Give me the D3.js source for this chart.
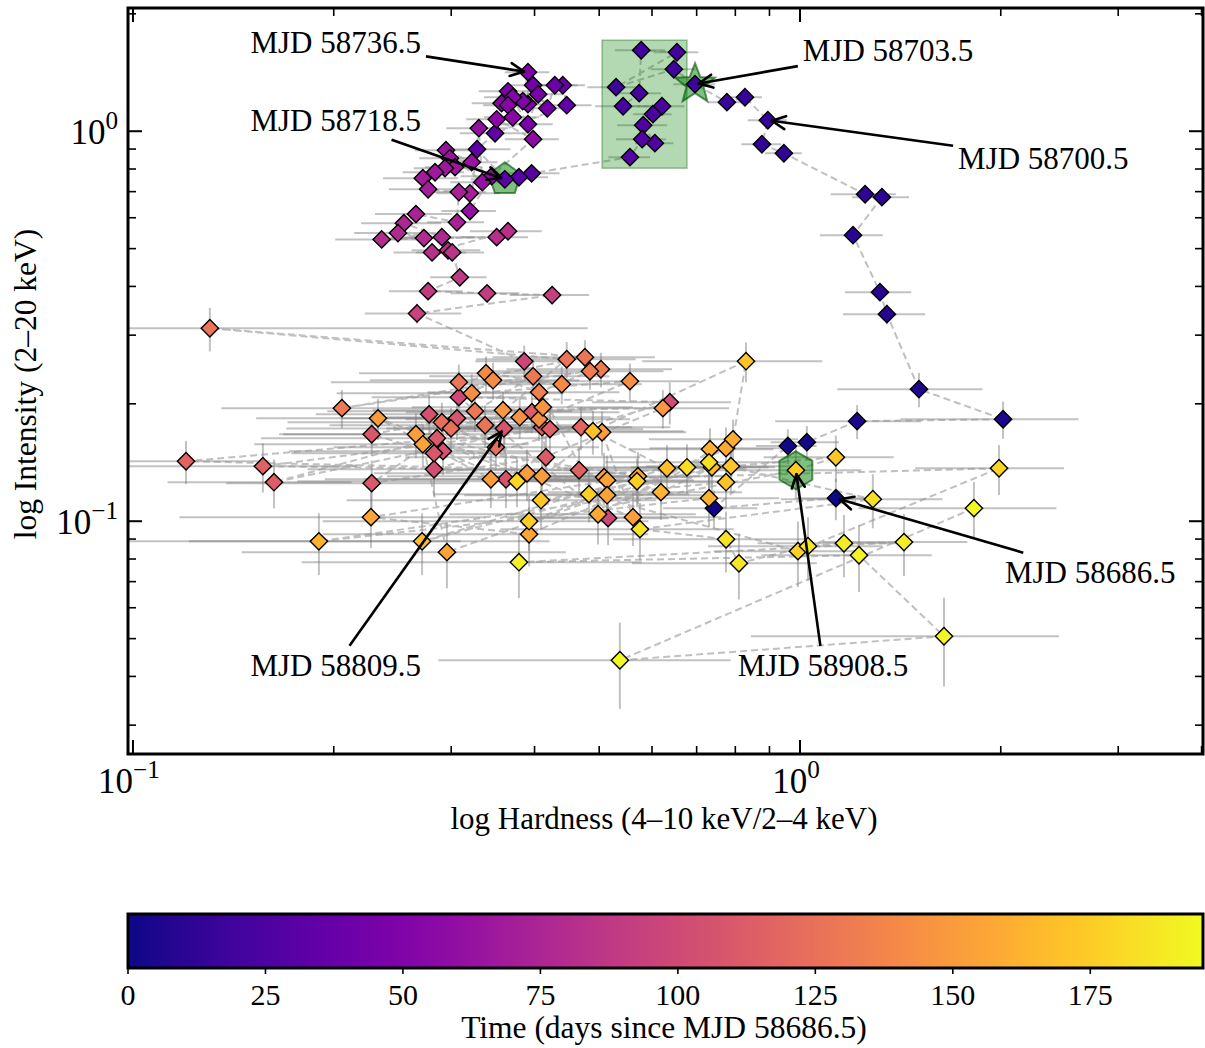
<!DOCTYPE html>
<html><head><meta charset="utf-8">
<script src="https://cdn.jsdelivr.net/npm/d3@7"></script>
<style>
body{margin:0;background:#fff}
svg{display:block}
text{font-family:"Liberation Serif","Times New Roman",serif;fill:#000}
</style>
</head><body>
<svg id="chart" width="1205" height="1048"></svg>
<script>
// ---------------- DATA ----------------
// time (days since MJD 58686.5, as read from marker colour), in observation order
const time = [
 0,1,2,3,4,5,6,7,8,9,10,11,12,13,14,15,16,17,
 18,19,20,21,22,23,24,25,26,27,28,29,
 30,31,32,33,35,36,38,40,42,44,46,47,48,49,50,51,52,53,54,55,56,57,58,59,60,61,
 62,63,64,65,66,67,68,70,71,72,73,74,76,77,78,79,80,81,82,83,84,85,88,90,91,93,95,98,99,
 100,101,103,104,105,106,107,108,108.5,109,110,110.5,111,112,112.5,113,114,115,116,117,118,
 124,125,126,127,127.5,128,128.5,129,129.5,130,130.5,131,132,133,
 140,140.5,142,142.5,143,143.5,145,145.5,148,148.5,149,150,150.5,151,151.5,152,152.5,153,153.5,154,154.5,155,155.5,156,156.5,157,158,
 160,161,162,162.5,163,165,168,168.5,170,170.5,171,172,172.5,173,174,175,175.5,176,176.5,178,
 180,182,182.5,184,185,185.5,187,188,189,190,191,192,193,194,195
];
// hardness ratio (4-10 keV / 2-4 keV)
const hardness = [
 1.132,0.743,0.959,1.024,1.218,2.016,1.508,1.350,1.318,1.201,1.327,1.252,0.946,0.877,0.895,0.827,0.777,0.696,
 0.647,0.530,0.654,0.578,0.574,0.543,0.621,0.602,0.582,0.606,0.580,0.556,
 0.396,0.379,0.361,0.328,0.349,0.447,0.441,0.429,0.418,0.398,0.405,0.391,0.365,0.391,0.391,0.384,0.371,0.357,0.365,0.371,0.351,0.398,0.345,0.320,0.330,0.334,
 0.2946,0.322,0.2987,0.304,0.2936,0.2837,0.272,0.277,0.320,0.308,0.306,0.2656,0.2548,0.2905,0.2496,0.273,0.236,0.351,0.365,0.2808,0.2967,0.301,0.309,0.277,0.3395,0.425,0.2666,0.386,0.5156,
 0.308,0.638,0.2827,0.278,0.2916,0.3624,0.3599,0.306,0.228,0.2827,0.2856,0.228,0.416,0.4104,0.1627,0.3964,0.4218,0.1566,0.4664,0.1201,0.4696,
 0.2905,0.350,0.2998,0.3372,0.447,0.1304,0.476,0.308,0.3256,0.398,0.2057,0.503,0.4843,0.4063,
 0.3383,0.4394,0.3466,0.322,0.556,0.4063,0.380,0.4117,0.3587,0.623,0.344,0.233,0.3898,0.4104,0.505,0.5618,0.2656,0.5085,0.5138,0.5138,0.2956,0.272,0.5716,0.2274,0.3925,0.7747,0.498,
 0.7936,0.733,0.7305,0.190,0.6188,0.738,0.2713,0.6318,0.4893,0.830,0.7747,0.409,0.788,1.132,0.986,0.3925,0.5697,0.4827,0.993,1.988,
 0.3764,0.677,0.7305,1.286,0.5755,0.7747,0.810,1.028,1.164,1.432,0.379,1.226,1.644,0.537,1.823
];
// intensity (2-20 keV, Crab units)
const intensity = [
 0.1146,0.108,0.156,0.1595,0.1805,0.1826,0.218,0.3396,0.3866,0.5412,0.6775,0.6893,0.878,0.926,1.067,1.222,1.187,1.320,
 1.442,1.297,1.594,1.613,1.252,1.159,1.159,1.106,1.036,0.932,0.954,0.858,
 0.780,0.762,0.753,0.899,0.988,1.166,1.312,1.312,1.145,1.312,1.244,1.042,1.266,1.173,1.417,1.194,1.222,1.180,1.166,1.086,1.073,0.954,0.767,0.624,1.018,0.740,
 0.894,0.833,0.853,0.809,0.804,0.785,0.758,0.710,0.693,0.698,0.584,0.613,0.581,0.535,0.548,0.532,0.528,0.535,0.554,0.489,0.495,0.489,0.422,0.389,0.384,0.380,0.341,0.257,0.1018,
 0.208,0.202,0.1359,0.188,0.1512,0.1281,0.173,0.1836,0.1671,0.1494,0.1632,0.1252,0.1459,0.1742,0.1259,0.1904,0.1722,0.1384,0.1351,0.1425,0.1742,
 0.1794,0.1548,0.173,0.1762,0.2602,0.3125,0.2633,0.2272,0.1915,0.2353,0.1949,0.2453,0.2424,0.2142,
 0.2396,0.2245,0.2299,0.2129,0.2286,0.1826,0.1848,0.1960,0.1926,0.1949,0.1281,0.1836,0.1327,0.1304,0.1691,0.1024,0.1671,0.1297,0.1274,0.1166,0.0833,0.1575,0.1304,0.1024,0.0926,0.1539,0.1042,
 0.1622,0.153,0.1146,0.0888,0.1187,0.1375,0.0888,0.1367,0.1701,0.2572,0.1259,0.1132,0.1384,0.1459,0.1351,0.100,0.1266,0.1173,0.0838,0.1367,
 0.1266,0.1375,0.1416,0.1139,0.0954,0.0899,0.078,0.0863,0.0878,0.0884,0.0785,0.0818,0.0507,0.044,0.108
];
// 1-sigma errors
const hardnessErr = [
 0.15,0.12,0.10,0.12,0.30,0.60,0.37,0.19,0.15,0.13,0.13,0.14,0.06,0.06,0.06,0.05,0.05,0.05,
 0.05,0.05,0.05,0.05,0.045,0.05,0.05,0.04,0.05,0.04,0.05,0.04,
 0.04,0.04,0.04,0.04,0.04,0.04,0.035,0.035,0.035,0.03,0.035,0.035,0.035,0.03,0.03,0.035,0.035,0.035,0.03,0.035,0.035,0.037,0.035,0.03,0.035,0.035,
 0.03,0.03,0.03,0.03,0.03,0.03,0.035,0.035,0.035,0.03,0.03,0.035,0.035,0.035,0.035,0.03,0.035,0.04,0.045,0.035,0.035,0.035,0.03,0.035,0.04,0.058,0.044,0.06,0.12,
 0.08,0.15,0.10,0.09,0.12,0.14,0.12,0.10,0.06,0.11,0.13,0.09,0.16,0.15,0.05,0.14,0.16,0.06,0.18,0.04,0.17,
 0.12,0.15,0.13,0.14,0.12,0.35,0.13,0.11,0.13,0.12,0.07,0.14,0.14,0.13,
 0.12,0.14,0.12,0.12,0.15,0.15,0.14,0.15,0.13,0.16,0.15,0.08,0.16,0.17,0.17,0.20,0.10,0.18,0.18,0.20,0.15,0.12,0.20,0.11,0.20,0.18,0.20,
 0.20,0.18,0.20,0.12,0.20,0.18,0.15,0.20,0.18,0.25,0.20,0.20,0.20,0.25,0.25,0.20,0.20,0.20,0.25,0.50,
 0.20,0.22,0.22,0.35,0.22,0.25,0.25,0.30,0.30,0.35,0.20,0.35,0.80,0.25,0.60
];
const intensityErr = [
 0.014,0.012,0.016,0.016,0.018,0.02,0.022,0.02,0.02,0.022,0.022,0.022,0.02,0.02,0.025,0.025,0.025,0.03,
 0.03,0.03,0.03,0.03,0.03,0.03,0.03,0.03,0.03,0.025,0.025,0.025,
 0.02,0.02,0.02,0.02,0.025,0.025,0.03,0.03,0.025,0.03,0.03,0.025,0.03,0.025,0.03,0.025,0.025,0.025,0.025,0.025,0.025,0.02,0.02,0.02,0.025,0.02,
 0.02,0.02,0.02,0.02,0.02,0.02,0.02,0.02,0.02,0.02,0.02,0.02,0.02,0.02,0.02,0.02,0.02,0.02,0.02,0.02,0.02,0.02,0.02,0.02,0.02,0.02,0.02,0.025,0.015,
 0.025,0.025,0.02,0.022,0.02,0.02,0.022,0.022,0.02,0.02,0.02,0.018,0.02,0.022,0.018,0.022,0.022,0.02,0.02,0.018,0.022,
 0.022,0.02,0.022,0.022,0.028,0.04,0.028,0.025,0.022,0.025,0.022,0.025,0.025,0.025,
 0.025,0.025,0.025,0.025,0.025,0.022,0.022,0.022,0.022,0.022,0.02,0.022,0.02,0.02,0.022,0.016,0.022,0.02,0.02,0.018,0.016,0.02,0.02,0.017,0.016,0.02,0.017,
 0.02,0.02,0.018,0.016,0.018,0.02,0.016,0.02,0.022,0.03,0.018,0.018,0.02,0.02,0.02,0.016,0.018,0.018,0.016,0.02,
 0.018,0.02,0.02,0.018,0.016,0.016,0.015,0.016,0.016,0.016,0.015,0.016,0.013,0.011,0.018
];
// annotated observations (time of the marked point, label, label anchor in data units)
const annotLabels = ["MJD 58736.5","MJD 58718.5","MJD 58703.5","MJD 58700.5","MJD 58686.5","MJD 58809.5","MJD 58908.5"];
const annotTimes  = [50, 32, 17, 14, 0, 107, 174];
const annotTextHardness  = [0.15, 0.15, 1.01, 1.726, 2.029, 0.15, 0.807];
const annotTextIntensity = [1.69, 1.067, 1.613, 0.853, 0.074, 0.0427, 0.0427];
// highlighted region and highlighted observations
const boxHardness  = [0.505, 0.677];
const boxIntensity = [0.804, 1.712];
const starTime = 17, pentagonTime = 32, hexagonTime = 174;
// axes / ticks
const xMajorTicks = [0.1, 1];
const xMinorTicks = [0.2,0.3,0.4,0.5,0.6,0.7,0.8,0.9,2,3,4];
const yMajorTicks = [0.1, 1];
const yMinorTicks = [0.03,0.04,0.05,0.06,0.07,0.08,0.09,0.2,0.3,0.4,0.5,0.6,0.7,0.8,0.9,2];
const tickLabelExp = {"0.1":"\u22121","1":"0"};
const cbTicks = [0,25,50,75,100,125,150,175];
const timeMax = 195.5;

// ---------------- LAYOUT ----------------
const svg = d3.select("#chart");
const P = {left:128, right:1203, top:8, bottom:754};
const x = d3.scaleLog().domain([0.0983, 4.02]).range([P.left, P.right]);
const y = d3.scaleLog().domain([0.0253, 2.07]).range([P.bottom, P.top]);
const color = t => d3.interpolatePlasma(Math.max(0, Math.min(1, t / timeMax)));

const pts = time.map((t,i)=>({t, h:hardness[i], I:intensity[i], he:hardnessErr[i], ie:intensityErr[i]}));

svg.append("defs").append("clipPath").attr("id","clip")
  .append("rect").attr("x",P.left).attr("y",P.top).attr("width",P.right-P.left).attr("height",P.bottom-P.top);

const g = svg.append("g").attr("clip-path","url(#clip)");
const xmin = x.domain()[0]*0.5, ymin = y.domain()[0]*0.5;

// error bars
const eb = g.append("g").attr("stroke","rgba(120,120,120,0.45)").attr("stroke-width",2);
pts.forEach(d=>{
  eb.append("line").attr("x1",x(Math.max(d.h-d.he,xmin))).attr("x2",x(d.h+d.he))
    .attr("y1",y(d.I)).attr("y2",y(d.I));
  eb.append("line").attr("x1",x(d.h)).attr("x2",x(d.h))
    .attr("y1",y(Math.max(d.I-d.ie,ymin))).attr("y2",y(d.I+d.ie));
});

// dashed track in time order
g.append("path").datum(pts)
  .attr("d", d3.line().x(d=>x(d.h)).y(d=>y(d.I)))
  .attr("fill","none").attr("stroke","rgba(150,150,150,0.6)").attr("stroke-width",2)
  .attr("stroke-dasharray","7,4");

// highlighted region
g.append("rect")
  .attr("x",x(boxHardness[0])).attr("width",x(boxHardness[1])-x(boxHardness[0]))
  .attr("y",y(boxIntensity[1])).attr("height",y(boxIntensity[0])-y(boxIntensity[1]))
  .attr("fill","rgba(0,128,0,0.3)").attr("stroke","rgba(0,90,0,0.35)").attr("stroke-width",1.5);

// special markers
function polyPath(n, r, inner){
  const pts=[]; const k = inner ? 2*n : n;
  for(let j=0;j<k;j++){
    const a = -Math.PI/2 + j*2*Math.PI/k;
    const rr = inner ? (j%2? inner : r) : r;
    pts.push([rr*Math.cos(a), rr*Math.sin(a)]);
  }
  return "M"+pts.map(p=>p.join(",")).join("L")+"Z";
}
const findPt = t => pts.find(d=>d.t===t);
[[starTime, polyPath(5,21,9)],[pentagonTime, polyPath(5,17)],[hexagonTime, polyPath(6,19)]].forEach(([t,path])=>{
  const d=findPt(t);
  g.append("path").attr("d",path).attr("transform",`translate(${x(d.h)},${y(d.I)})`)
   .attr("fill","rgba(0,128,0,0.5)").attr("stroke","rgba(0,80,0,0.6)").attr("stroke-width",2);
});

// data markers
const diamond = d3.symbol().type(d3.symbolSquare).size(150);
g.append("g").selectAll("path").data(pts).join("path")
  .attr("d",diamond)
  .attr("transform",d=>`translate(${x(d.h)},${y(d.I)}) rotate(45)`)
  .attr("fill",d=>color(d.t)).attr("stroke","#000").attr("stroke-width",1.4);

// ---------------- AXES ----------------
const ax = svg.append("g").attr("stroke","#000");
function tick(x1,y1,x2,y2,w){ax.append("line").attr("x1",x1).attr("y1",y1).attr("x2",x2).attr("y2",y2).attr("stroke-width",w);}
xMajorTicks.forEach(v=>{tick(x(v),P.bottom,x(v),P.bottom-14,2);tick(x(v),P.top,x(v),P.top+14,2);});
xMinorTicks.forEach(v=>{tick(x(v),P.bottom,x(v),P.bottom-8,1.6);tick(x(v),P.top,x(v),P.top+8,1.6);});
yMajorTicks.forEach(v=>{tick(P.left,y(v),P.left+14,y(v),2);tick(P.right,y(v),P.right-14,y(v),2);});
yMinorTicks.forEach(v=>{tick(P.left,y(v),P.left+8,y(v),1.6);tick(P.right,y(v),P.right-8,y(v),1.6);});
svg.append("rect").attr("x",P.left).attr("y",P.top).attr("width",P.right-P.left).attr("height",P.bottom-P.top)
  .attr("fill","none").attr("stroke","#000").attr("stroke-width",3);

function powLabel(sel, v){
  sel.append("tspan").text("10");
  sel.append("tspan").attr("font-size","0.72em").attr("dy","-0.6em").text(tickLabelExp[String(v)]);
}
xMajorTicks.forEach(v=>{
  const t = svg.append("text").attr("x",x(v)-4).attr("y",P.bottom+39).attr("text-anchor","middle").attr("font-size",35);
  powLabel(t,v);
});
yMajorTicks.forEach(v=>{
  const t = svg.append("text").attr("x",P.left-10).attr("y",y(v)+13).attr("text-anchor","end").attr("font-size",35);
  powLabel(t,v);
});
svg.append("text").attr("x",664).attr("y",829).attr("text-anchor","middle")
  .attr("font-size",31).text("log Hardness (4\u201310 keV/2\u20134 keV)");
svg.append("text").attr("transform",`translate(36,384) rotate(-90)`).attr("text-anchor","middle")
  .attr("font-size",31.5).text("log Intensity (2\u201320 keV)");

// ---------------- ANNOTATIONS ----------------
const an = svg.append("g");
annotLabels.forEach((lab,i)=>{
  const d = findPt(annotTimes[i]);
  const tx = x(annotTextHardness[i]), ty = y(annotTextIntensity[i]);
  const t = an.append("text").attr("x",tx).attr("y",ty).attr("dominant-baseline","central")
    .attr("font-size",31).text(lab);
  const bb = t.node().getBBox(); const pad=5;
  const bx1=bb.x-pad,bx2=bb.x+bb.width+pad,by1=bb.y-pad+3,by2=bb.y+bb.height+pad-3;
  const cx=(bx1+bx2)/2, cy=(by1+by2)/2;
  const px=x(d.h), py=y(d.I);
  const dx=px-cx, dy=py-cy;
  const tX = dx!==0 ? ((dx>0?bx2:bx1)-cx)/dx : Infinity;
  const tY = dy!==0 ? ((dy>0?by2:by1)-cy)/dy : Infinity;
  const s = Math.min(Math.abs(tX),Math.abs(tY));
  const sx=cx+s*dx, sy=cy+s*dy;
  const L=Math.hypot(px-sx,py-sy), ux=(px-sx)/L, uy=(py-sy)/L;
  const ex=px-ux*4, ey=py-uy*4;
  an.append("line").attr("x1",sx).attr("y1",sy).attr("x2",ex).attr("y2",ey)
    .attr("stroke","#000").attr("stroke-width",2.6);
  const ang=Math.atan2(uy,ux), hl=15, ha=0.45;
  [ha,-ha].forEach(a=>{
    an.append("line").attr("x1",ex).attr("y1",ey)
      .attr("x2",ex-hl*Math.cos(ang+a)).attr("y2",ey-hl*Math.sin(ang+a))
      .attr("stroke","#000").attr("stroke-width",2.6).attr("stroke-linecap","round");
  });
});

// ---------------- COLORBAR ----------------
const CB = {left:128, right:1203, top:914, bottom:968};
const cbx = d3.scaleLinear().domain([0,timeMax]).range([CB.left,CB.right]);
const grad = svg.select("defs").append("linearGradient").attr("id","plasma").attr("x1","0%").attr("x2","100%");
d3.range(0,1.0001,0.05).forEach(f=>grad.append("stop").attr("offset",(f*100)+"%").attr("stop-color",d3.interpolatePlasma(f)));
svg.append("rect").attr("x",CB.left).attr("y",CB.top).attr("width",CB.right-CB.left).attr("height",CB.bottom-CB.top)
  .attr("fill","url(#plasma)").attr("stroke","#000").attr("stroke-width",3);
cbTicks.forEach(v=>{
  svg.append("line").attr("x1",cbx(v)).attr("x2",cbx(v)).attr("y1",CB.bottom).attr("y2",CB.bottom+6)
    .attr("stroke","#000").attr("stroke-width",1.6);
  svg.append("text").attr("x",cbx(v)).attr("y",1005).attr("text-anchor","middle").attr("font-size",30).text(v);
});
svg.append("text").attr("x",664).attr("y",1038).attr("text-anchor","middle")
  .attr("font-size",31.5).text("Time (days since MJD 58686.5)");
</script>
</body></html>
